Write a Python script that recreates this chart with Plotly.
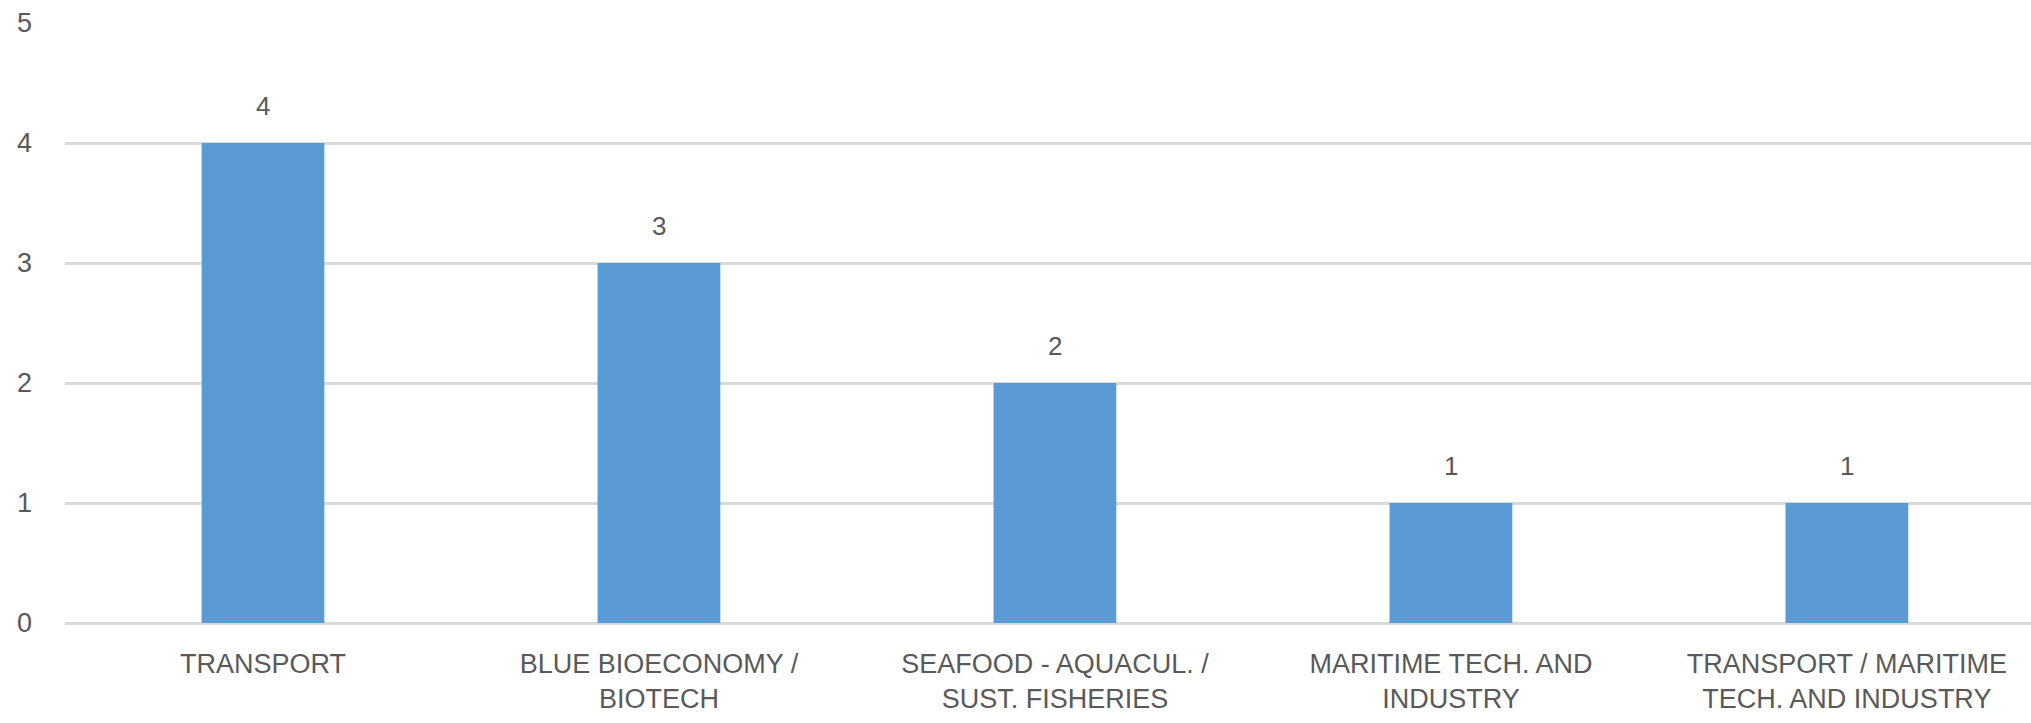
import plotly.graph_objects as go

categories = ["TRANSPORT", "BLUE BIOECONOMY /<br>BIOTECH", "SEAFOOD - AQUACUL. /<br>SUST. FISHERIES",
              "MARITIME TECH. AND<br>INDUSTRY", "TRANSPORT / MARITIME<br>TECH. AND INDUSTRY"]
values = [4, 3, 2, 1, 1]
y_ticks = [0, 1, 2, 3, 4, 5]

FONT = "Liberation Sans, Arial, sans-serif"
GREY = "#595959"

fig = go.Figure()
fig.add_trace(go.Bar(x=categories, y=values, marker=dict(color="#5b9bd5", line=dict(width=0)), width=0.31))

for c, v in zip(categories, values):
    fig.add_annotation(x=c, y=v, text=str(v), showarrow=False, yanchor="bottom", yshift=20,
                       font=dict(family=FONT, size=26, color=GREY))

fig.update_layout(
    width=2031, height=723,
    margin=dict(l=65, r=0, t=23, b=100),
    plot_bgcolor="white", paper_bgcolor="white",
    showlegend=False,
)
fig.update_xaxes(range=[-0.5, 4.465], showgrid=False, showline=False, ticks="",
                 ticklabelstandoff=22,
                 tickfont=dict(family=FONT, size=27, color=GREY))
fig.update_yaxes(range=[0, 5], tickvals=y_ticks, showgrid=True, gridcolor="#d9d9d9", gridwidth=3,
                 zeroline=True, zerolinecolor="#d9d9d9", zerolinewidth=3, showline=False, ticks="",
                 ticklabelstandoff=32,
                 tickfont=dict(family=FONT, size=27, color=GREY))

fig.write_html("out.html")
